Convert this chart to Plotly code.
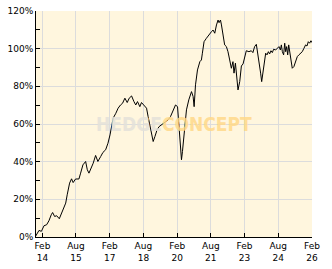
import plotly.graph_objects as go

dates = [
    "2013-10-15", "2013-12-08", "2014-01-15", "2014-02-28", "2014-04-11", "2014-05-18",
    "2014-06-25", "2014-07-17", "2014-08-19", "2014-09-21", "2014-11-03", "2014-12-05",
    "2015-01-07", "2015-02-15", "2015-03-11", "2015-04-19", "2015-05-21", "2015-06-16",
    "2015-07-25", "2015-09-18", "2015-10-15", "2015-11-22", "2016-01-05", "2016-02-01",
    "2016-02-28", "2016-04-05", "2016-05-07", "2016-06-15", "2016-07-22", "2016-09-05",
    "2016-10-12", "2016-11-25", "2017-01-02", "2017-02-04", "2017-03-01", "2017-03-27",
    "2017-05-10", "2017-06-16", "2017-07-25", "2017-08-27", "2017-10-04", "2017-11-11",
    "2017-12-13", "2018-01-21", "2018-02-28", "2018-03-30", "2018-04-27", "2018-06-04",
    "2018-07-01", "2018-08-08", "2018-09-21", "2018-10-17", "2018-11-14", "2018-12-11",
    "2019-01-07", "2019-02-04", "2019-03-11", "2019-04-13", "2019-05-21", "2019-06-16",
    "2019-07-30", "2019-09-07", "2019-10-15", "2019-11-27", "2020-01-05", "2020-02-07",
    "2020-03-03", "2020-03-25", "2020-04-11", "2020-04-27", "2020-05-18", "2020-06-09",
    "2020-07-01", "2020-08-08", "2020-09-21", "2020-10-17", "2020-11-03", "2020-11-25",
    "2020-12-27", "2021-02-04", "2021-03-01", "2021-03-17", "2021-04-13", "2021-05-21",
    "2021-06-28", "2021-08-11", "2021-09-07", "2021-10-04", "2021-11-01", "2021-11-27",
    "2021-12-13", "2022-01-05", "2022-01-21", "2022-02-16", "2022-03-14", "2022-04-11",
    "2022-05-07", "2022-06-04", "2022-07-01", "2022-07-27", "2022-08-13", "2022-09-05",
    "2022-09-26", "2022-10-17", "2022-11-14", "2022-12-11", "2023-01-07", "2023-02-04",
    "2023-03-01", "2023-04-13", "2023-05-21", "2023-06-16", "2023-07-14", "2023-08-11",
    "2023-09-07", "2023-10-04", "2023-10-20", "2023-11-06", "2023-11-27", "2023-12-24",
    "2024-01-10", "2024-02-01", "2024-02-23", "2024-03-14", "2024-04-05", "2024-04-27",
    "2024-05-18", "2024-06-20", "2024-07-11", "2024-08-13", "2024-09-05", "2024-09-21",
    "2024-10-07", "2024-10-28", "2024-11-14", "2024-11-30", "2024-12-16", "2025-01-02",
    "2025-01-18", "2025-02-09", "2025-03-01", "2025-03-17", "2025-04-13", "2025-05-10",
    "2025-06-07", "2025-07-03", "2025-07-30", "2025-08-27", "2025-09-23", "2025-10-20",
    "2025-11-11", "2025-12-03", "2025-12-24", "2026-01-15", "2026-02-01",
]

performance = [
    0.5, 3.5, 3.0, 6.0, 6.5, 8.6,
    11.8, 13.0, 10.9, 11.3, 9.7, 12.4,
    14.5, 18.0, 22.4, 28.6, 30.9, 28.9,
    30.8, 30.8, 33.9, 38.3, 40.1, 35.7,
    33.9, 36.6, 39.2, 43.3, 40.1, 42.7,
    44.9, 46.3, 49.8, 54.2, 59.5, 63.1,
    65.7, 68.4, 70.1, 71.0, 73.7, 71.4,
    73.7, 74.9, 71.9, 70.1, 71.9, 69.2,
    71.4, 70.1, 68.4, 63.9, 58.6, 54.2,
    50.7, 53.3, 56.9, 58.6, 59.5, 60.4,
    61.3, 62.2, 63.9, 67.5, 70.1, 69.2,
    56.9, 48.0, 41.0, 45.4, 51.6, 59.5,
    67.5, 72.8, 77.2, 74.6, 69.2, 80.8,
    88.7, 93.1, 94.0, 97.6, 103.7, 105.5,
    107.3, 109.0, 109.9, 108.2, 112.6, 115.2,
    113.8, 115.2, 112.6, 107.3, 102.0, 101.1,
    98.4, 94.0, 89.6, 93.1, 87.0, 92.3,
    83.4, 78.1, 82.5, 90.8, 91.9, 96.7,
    98.9, 98.4, 98.9, 97.9, 101.1, 102.3,
    96.7, 92.3, 87.0, 82.5, 87.8, 94.9,
    97.6, 96.7, 98.4, 97.2, 98.9, 97.9,
    99.7, 99.3, 100.2, 101.1, 99.3, 102.0,
    98.4, 96.7, 102.9, 98.4, 101.1, 96.7,
    102.0, 96.7, 92.3, 89.6, 90.5, 93.1,
    95.8, 96.7, 97.6, 98.4, 100.2, 102.0,
    101.4, 103.7, 102.9, 104.2, 103.2,
]

x_tick_vals = ["2014-02-01", "2015-08-01", "2017-02-01", "2018-08-01", "2020-02-01",
               "2021-08-01", "2023-02-01", "2024-08-01", "2026-02-01"]
x_tick_text = ["Feb<br>14", "Aug<br>15", "Feb<br>17", "Aug<br>18", "Feb<br>20",
               "Aug<br>21", "Feb<br>23", "Aug<br>24", "Feb<br>26"]
y_tick_vals = [0, 20, 40, 60, 80, 100, 120]
y_tick_text = ["0%", "20%", "40%", "60%", "80%", "100%", "120%"]

fig = go.Figure()
fig.add_trace(go.Scatter(x=dates, y=performance, mode="lines",
                         line=dict(color="#000000", width=1), hoverinfo="skip"))

font = dict(family="DejaVu Sans, sans-serif", size=9, color="#000000")

fig.update_layout(
    width=332, height=269,
    margin=dict(l=36, r=20, t=11, b=32),
    paper_bgcolor="#FFFFFF",
    plot_bgcolor="#FFF6DE",
    showlegend=False,
    font=font,
    xaxis=dict(
        type="date", automargin=False,
        range=["2013-10-20", "2026-02-01"],
        tickmode="array", tickvals=x_tick_vals, ticktext=x_tick_text,
        ticks="inside", ticklen=4, tickcolor="#000000", tickwidth=1,
        showgrid=True, gridcolor="#DCDCDC", gridwidth=1,
        showline=True, linecolor="#000000", linewidth=1,
        zeroline=False, tickfont=font,
    ),
    yaxis=dict(
        automargin=False,
        range=[0, 120],
        tickmode="array", tickvals=y_tick_vals, ticktext=y_tick_text,
        ticks="inside", ticklen=4, tickcolor="#000000", tickwidth=1,
        showgrid=True, gridcolor="#DCDCDC", gridwidth=1,
        showline=True, linecolor="#000000", linewidth=1,
        zeroline=False, tickfont=font,
        minor=dict(dtick=10, ticks="inside", ticklen=4, tickcolor="#000000", showgrid=False),
    ),
    annotations=[dict(
        xref="paper", yref="paper", x=0.5, y=0.5, xanchor="center", yanchor="middle",
        text="<b><span style='color:#E4E2DA'>HEDGE</span><span style='color:#FFD98A'>CONCEPT</span></b>",
        showarrow=False, opacity=0.85,
        font=dict(family="Liberation Sans Narrow, DejaVu Sans Condensed, Arial Narrow, sans-serif", size=19),
    )],
)

fig.write_html("out.html")
